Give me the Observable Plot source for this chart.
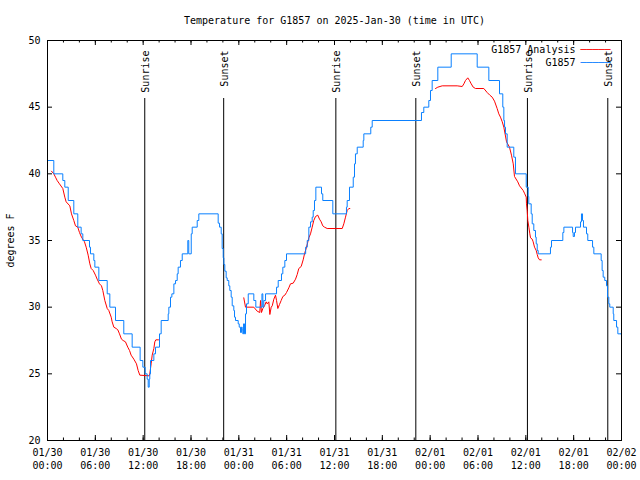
<!DOCTYPE html>
<html><head><meta charset="utf-8">
<script src="https://cdn.jsdelivr.net/npm/d3@7"></script>
<script src="https://cdn.jsdelivr.net/npm/@observablehq/plot@0.6"></script>
<style>body{margin:0;background:#fff;}</style>
</head><body><div id="chart"></div>
<script>
const title = "Temperature for G1857 on 2025-Jan-30 (time in UTC)";
const yLabel = "degrees F";
const seriesNames = ["G1857 Analysis", "G1857"];
const seriesColors = ["#ff0000", "#0a80ff"];
const startUTC = Date.UTC(2025, 0, 30);
const spanHours = 72;
const yTicks = [20, 25, 30, 35, 40, 45, 50];

// observations (hours since 01/30 00:00 UTC, °F)
const blueHours = [0,0.79,1.92,2.17,2.6,3.3,3.8,4.22,4.43,5.27,5.39,5.81,5.94,6.44,7.49,7.82,8.53,9.57,10.62,11.62,11.96,12.25,12.5,12.63,12.76,12.83,12.92,13.34,13.55,14.05,14.26,15.14,15.22,15.43,15.6,15.85,16.06,16.27,16.39,16.68,16.9,17.6,17.72,18.03,18.15,18.78,18.98,21.41,21.58,21.79,21.91,22.04,22.12,22.24,22.41,22.54,22.74,22.87,23.04,23.17,23.37,23.46,23.58,23.92,24.05,24.21,24.33,24.42,24.5,24.59,24.71,24.84,24.96,25.18,25.88,26.13,26.9,27.01,27.13,27.35,28.73,28.94,29.35,29.52,29.77,29.98,32.38,32.58,32.78,32.99,33.2,33.33,33.49,33.66,34.37,34.53,35.79,37.5,37.59,37.88,38.35,38.51,38.63,38.85,39.6,39.68,40.55,40.73,46.91,47.2,47.83,48.04,48.25,48.96,50.64,53.9,55.36,56.7,57.11,57.24,57.33,57.45,57.66,58.49,58.7,60.05,60.3,60.37,60.67,60.8,61.0,61.21,61.3,61.43,61.55,63.09,63.22,64.64,64.77,65.86,65.94,66.1,66.23,66.86,66.98,67.11,67.23,67.61,67.77,68.37,68.53,69.45,69.57,69.7,69.9,70.12,70.25,70.41,70.53,70.96,71.03,71.38,71.54,71.96];
const blueTemps = [41,40,39.5,39,38,37,36,35.5,35,34.5,34,33.5,33,32,31,30,29,28,27,26,25.5,25,24.6,24,24.6,25,26,26.5,27,28,29,29.5,30,30.75,31,31.75,32,32.5,33,33.5,34,35,34,35.5,36,36.5,37,36.3,36,35.5,34.4,33.7,33.2,32.7,32.2,32,31.6,31.25,30.75,30.1,29.75,29.25,29,28.75,28.5,28.1,28.5,28.3,28,28.75,28,29.5,30.25,31,30.5,30,31,30,30.5,31,31.5,32,32.5,33,33.5,34,34.5,35,36,36.4,36.75,37.25,38,39,38.5,38,37,37.5,38,39,39.75,40.75,41.5,42,42.5,43,43.5,44,44.6,45,45.5,46.25,47,48,49,48,47,46,45,44,43.5,43,42,41.25,40,39,38.3,37.75,37,36.25,35.75,35.25,34.75,34.25,34,34.5,35,35.6,36,35.6,35.3,35.6,36,36.4,37,36.5,36,35.5,35,34.5,34,33.5,32.75,32.25,32,31.6,30.75,30.25,30,29.5,29,28.5,28,28];

// analysis (null = no analysis)
const redHours = [0.5,0.79,1.0,1.21,1.5,1.92,2.17,2.34,2.8,3.01,3.3,3.51,3.8,4.01,4.26,4.64,4.85,5.1,5.31,5.48,5.73,6.02,6.23,6.52,6.77,6.94,7.19,7.49,7.69,7.99,8.11,8.32,8.61,8.82,9.03,9.28,9.49,9.78,10.07,10.29,10.49,10.83,11.16,11.37,11.58,12.76,12.83,13.0,13.13,13.34,13.46,13.59,13.92,
 14.5,
 24.62,24.84,25.88,26.3,26.63,26.72,26.84,27.01,27.22,27.43,27.56,27.76,27.89,28.06,28.19,28.39,28.6,28.73,28.89,29.1,29.31,29.52,29.77,29.98,30.27,30.48,30.82,31.11,31.32,31.52,31.82,32.07,32.24,32.49,32.78,32.99,33.2,33.4,33.62,33.9,34.12,34.33,34.53,34.75,35.08,36.97,37.17,37.38,37.59,37.8,37.92,
 40,
 48.67,48.96,49.51,51.39,52.02,52.23,52.43,52.72,52.93,53.15,53.4,53.69,54.73,55.15,55.48,55.78,56.07,56.4,56.61,56.82,57.04,57.24,57.58,57.95,58.2,58.42,58.58,58.99,59.21,59.67,59.83,60.05,60.08,60.17,60.25,60.38,60.5,60.59,60.8,60.92,61.09,61.3,61.43,61.55,61.72,61.93];
const redTemps = [40.2,40,39.75,39.5,39.25,38.9,38.25,37.9,37.6,37,36.5,36.1,36,35.6,35.25,34.9,34.5,33.9,33.25,32.9,32.75,32.4,32.1,31.75,31.6,31.25,30.5,29.9,29.75,29.25,28.9,28.5,28.4,28.3,28,27.6,27.5,27.4,27,26.75,26.4,26.1,25.75,25.25,24.9,24.85,25,25.75,26.4,26.9,27.4,27.55,27.55,
 null,
 30.7,30,30,29.7,29.6,30.5,29.6,29.9,30.1,30.4,30.25,30.4,29.45,30,30.1,30.6,30.9,30.5,29.9,30.2,30.5,30.8,30.9,31.1,31.45,31.75,31.8,32.1,32.45,32.9,33.05,33.55,34,34.5,35.2,35.5,36,36.5,36.8,36.9,36.6,36.4,36.1,36,35.9,35.9,36.25,36.75,37.25,37.4,37.4,
 null,
 46.4,46.5,46.6,46.6,46.55,46.75,47,47.2,47,46.75,46.5,46.4,46.4,46.1,45.9,45.75,45.45,44.9,44.5,44.25,43.9,43.5,42.4,42,41.4,40.75,39.8,39.4,39.1,38.75,38.55,38.25,37.75,37.25,36.5,36,35.5,35.2,35.1,34.9,34.5,34.25,33.95,33.7,33.55,33.55];

const sunHours = [12.2, 22.1, 36.17, 46.2, 60.2, 70.28];
const sunLabels = ["Sunrise", "Sunset", "Sunrise", "Sunset", "Sunrise", "Sunset"];

const toDate = h => new Date(startUTC + h * 3600000);
const blue = blueHours.map((h, i) => ({t: toDate(h), v: blueTemps[i]}));
const red = redHours.map((h, i) => ({t: toDate(h), v: redTemps[i]}));
const sun = sunHours.map((h, i) => ({t: toDate(h), label: sunLabels[i]}));
const x0 = toDate(0), x1 = toDate(spanHours);
const majorTicks = d3.utcHour.every(6).range(x0, new Date(+x1 + 1));
const minorTicks = d3.utcHour.every(2).range(x0, new Date(+x1 + 1));

const W = 640, H = 480, mL = 47, mR = 19, mT = 40, mB = 40;
const fw = W - mL - mR, fh = H - mT - mB;
const id = d => d;

const chart = Plot.plot({
  width: W, height: H,
  marginLeft: mL, marginRight: mR, marginTop: mT, marginBottom: mB,
  style: {fontFamily: "DejaVu Sans Mono", fontSize: "10px", color: "black", background: "white"},
  x: {type: "utc", domain: [x0, x1]},
  y: {domain: [20, 50]},
  marks: [
    // inward ticks
    Plot.ruleX(minorTicks, {insetTop: fh - 2.5, stroke: "black"}),
    Plot.ruleX(minorTicks, {insetBottom: fh - 2.5, stroke: "black"}),
    Plot.ruleX(majorTicks, {insetTop: fh - 5, stroke: "black"}),
    Plot.ruleX(majorTicks, {insetBottom: fh - 5, stroke: "black"}),
    Plot.ruleY(yTicks, {insetRight: fw - 5, stroke: "black"}),
    Plot.ruleY(yTicks, {insetLeft: fw - 5, stroke: "black"}),
    Plot.axisY({ticks: yTicks, tickSize: 0, tickPadding: 7, label: null}),
    Plot.axisX({ticks: majorTicks, tickSize: 0, tickPadding: 8.5, tickFormat: d3.utcFormat("%m/%d"), label: null}),
    Plot.axisX({ticks: majorTicks, tickSize: 0, tickPadding: 21.5, tickFormat: d3.utcFormat("%H:%M"), label: null}),
    // sunrise/sunset
    Plot.ruleX(sun, {x: "t", insetTop: 58, stroke: "black", strokeWidth: 1}),
    Plot.text(sun, {x: "t", text: "label", frameAnchor: "top", dy: 10, dx: 1, rotate: -90, textAnchor: "end", lineAnchor: "middle", fill: "black"}),
    // series
    Plot.line(red, {x: "t", y: "v", stroke: seriesColors[0], strokeWidth: 1}),
    Plot.line(blue, {x: "t", y: "v", stroke: seriesColors[1], strokeWidth: 1, curve: "step-after"}),
    // legend
    Plot.text([seriesNames[0]], {text: id, frameAnchor: "top-right", dx: -46, dy: 9.5, textAnchor: "end", lineAnchor: "middle", fill: "black"}),
    Plot.text([seriesNames[1]], {text: id, frameAnchor: "top-right", dx: -46, dy: 22.5, textAnchor: "end", lineAnchor: "middle", fill: "black"}),
    Plot.text(["\u2500\u2500\u2500\u2500\u2500"], {text: id, frameAnchor: "top-right", dx: -11, dy: 9.5, textAnchor: "end", lineAnchor: "middle", fill: seriesColors[0]}),
    Plot.text(["\u2500\u2500\u2500\u2500\u2500"], {text: id, frameAnchor: "top-right", dx: -11, dy: 22.5, textAnchor: "end", lineAnchor: "middle", fill: seriesColors[1]}),
    // title and y label
    Plot.text([title], {text: id, frameAnchor: "top", dy: -20, lineAnchor: "middle", fill: "black"}),
    Plot.text([yLabel], {text: id, frameAnchor: "left", dx: -37, rotate: -90, textAnchor: "middle", lineAnchor: "middle", fill: "black"}),
    Plot.frame({stroke: "black"})
  ]
});
document.getElementById("chart").appendChild(chart);
</script>
</body></html>
